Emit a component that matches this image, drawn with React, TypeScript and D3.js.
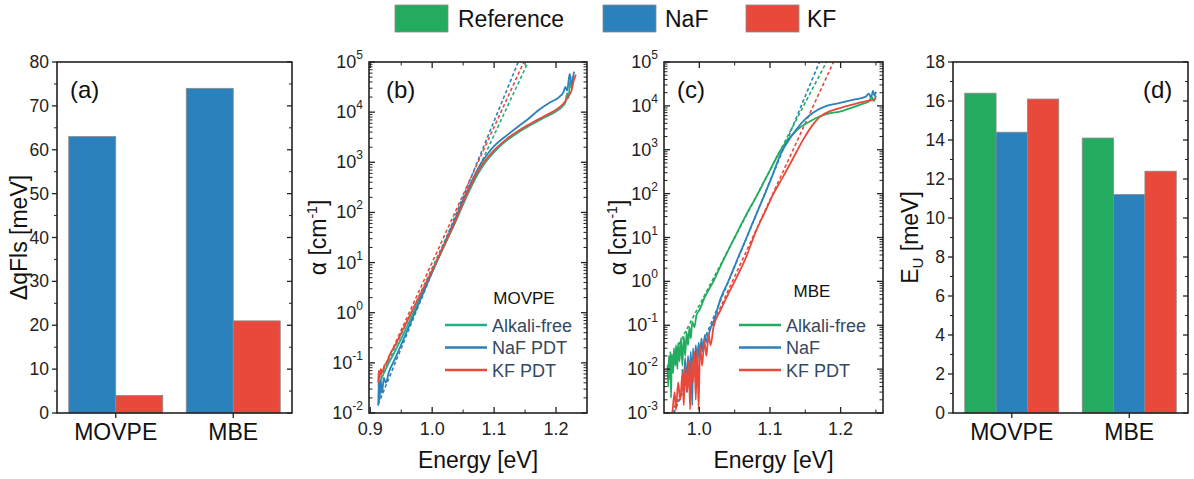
import React from 'react';
import * as d3 from 'd3';

const FONT = "'Liberation Sans', Arial, Helvetica, sans-serif";
const GREEN = '#23ab5f';
const BLUE = '#2a81bb';
const RED = '#e8493a';
const GREEN_B = '#22b086';
const LEG_TXT = '#34495e';

// ---------- data ----------
const categories = ['MOVPE', 'MBE'];
const legendLabels = ['Reference', 'NaF', 'KF'];
const qflsNaF = [63, 74];
const qflsKF = [4, 21];
const euReference = [16.4, 14.1];
const euNaF = [14.4, 11.2];
const euKF = [16.1, 12.4];

const ticksA = [0, 10, 20, 30, 40, 50, 60, 70, 80];
const ticksD = [0, 2, 4, 6, 8, 10, 12, 14, 16, 18];
const energyTicksB = [0.9, 1.0, 1.1, 1.2];
const energyTicksC = [1.0, 1.1, 1.2];
const legendB = ['Alkali-free', 'NaF PDT', 'KF PDT'];
const legendC = ['Alkali-free', 'NaF', 'KF PDT'];

// (b) MOVPE absorption [E (eV), alpha (cm^-1)]
const movpeAlkaliFree: [number, number][] = [
  [0.913, 0.035], [0.915, 0.04], [0.92, 0.055], [0.93, 0.1], [0.94, 0.17], [0.96, 0.55], [0.98, 1.9],
  [1.0, 6.5], [1.02, 22], [1.04, 75], [1.05, 145], [1.06, 270], [1.07, 480], [1.08, 780],
  [1.09, 1150], [1.1, 1600], [1.12, 2700], [1.14, 4000], [1.16, 5600], [1.18, 7700], [1.2, 10300],
  [1.21, 12800], [1.215, 15500], [1.218, 24000], [1.22, 19000], [1.223, 42000], [1.225, 30000],
  [1.227, 52000],
];
const movpeNaF: [number, number][] = [
  [0.913, 0.014], [0.9135, 0.04], [0.915, 0.018], [0.917, 0.045], [0.919, 0.025], [0.922, 0.05],
  [0.925, 0.04], [0.93, 0.065], [0.94, 0.12], [0.96, 0.45], [0.98, 1.7], [1.0, 6.5], [1.02, 24],
  [1.04, 90], [1.05, 180], [1.06, 330], [1.07, 600], [1.08, 1000], [1.09, 1500], [1.1, 2100],
  [1.12, 3400], [1.14, 5300], [1.155, 7300], [1.17, 10500], [1.19, 15500], [1.205, 20000],
  [1.212, 25000], [1.215, 32000], [1.218, 27000], [1.222, 58000], [1.225, 36000], [1.229, 64000],
];
const movpeKF: [number, number][] = [
  [0.913, 0.04], [0.9135, 0.07], [0.915, 0.05], [0.917, 0.075], [0.92, 0.065], [0.923, 0.09],
  [0.927, 0.1], [0.93, 0.13], [0.94, 0.22], [0.96, 0.7], [0.98, 2.2], [1.0, 7], [1.02, 23],
  [1.04, 80], [1.05, 160], [1.06, 300], [1.07, 540], [1.08, 870], [1.09, 1270], [1.1, 1750],
  [1.12, 2900], [1.14, 4300], [1.16, 6000], [1.18, 8200], [1.2, 11200], [1.21, 14000],
  [1.215, 16500], [1.22, 21000], [1.225, 27000], [1.228, 40000], [1.232, 56000],
];
const movpeFitAlkaliFree: [number, number][] = [[0.913, 0.039], [1.155, 100000]];
const movpeFitNaF: [number, number][] = [[0.913, 0.015], [1.139, 100000]];
const movpeFitKF: [number, number][] = [[0.913, 0.045], [1.148, 100000]];

// (c) MBE absorption
const mbeAlkaliFree: [number, number][] = [
  [0.955, 0.012], [0.956, 0.004], [0.957, 0.02], [0.958, 0.006], [0.959, 0.025], [0.96, 0.0022],
  [0.961, 0.022], [0.963, 0.008], [0.964, 0.03], [0.966, 0.012], [0.967, 0.035], [0.969, 0.01],
  [0.97, 0.04], [0.972, 0.015], [0.974, 0.05], [0.976, 0.012], [0.978, 0.055], [0.98, 0.02],
  [0.982, 0.07], [0.984, 0.035], [0.986, 0.09], [0.988, 0.05], [0.99, 0.12], [0.993, 0.09],
  [0.996, 0.17], [1.0, 0.22], [1.008, 0.45], [1.02, 1.0], [1.032, 2.6], [1.05, 10], [1.065, 30],
  [1.083, 100], [1.1, 340], [1.112, 800], [1.12, 1300], [1.138, 2800], [1.155, 4300],
  [1.171, 5800], [1.185, 6800], [1.199, 7400], [1.215, 9000], [1.23, 11000], [1.24, 12500],
  [1.244, 16000], [1.247, 13000], [1.25, 17000],
];
const mbeNaF: [number, number][] = [
  [0.976, 0.01], [0.978, 0.004], [0.98, 0.018], [0.982, 0.003], [0.984, 0.02], [0.986, 0.006],
  [0.988, 0.025], [0.99, 0.0015], [0.991, 0.03], [0.993, 0.008], [0.995, 0.035], [0.997, 0.012],
  [0.999, 0.04], [1.001, 0.02], [1.003, 0.05], [1.005, 0.025], [1.008, 0.06], [1.011, 0.04],
  [1.015, 0.08], [1.02, 0.12], [1.03, 0.4], [1.041, 1.0], [1.055, 3.5], [1.067, 10], [1.08, 32],
  [1.093, 100], [1.105, 300], [1.115, 800], [1.125, 1500], [1.138, 3000], [1.15, 5000],
  [1.161, 7000], [1.18, 10000], [1.199, 11700], [1.22, 14000], [1.235, 16000], [1.24, 19000],
  [1.243, 15500], [1.246, 22000], [1.248, 17000], [1.25, 21000],
];
const mbeKF: [number, number][] = [
  [0.962, 0.001], [0.965, 0.003], [0.967, 0.0012], [0.97, 0.005], [0.973, 0.002], [0.976, 0.008],
  [0.978, 0.0015], [0.98, 0.012], [0.983, 0.003], [0.985, 0.015], [0.987, 0.0012], [0.989, 0.018],
  [0.991, 0.005], [0.993, 0.025], [0.995, 0.002], [0.997, 0.03], [0.999, 0.0012], [1.001, 0.035],
  [1.004, 0.012], [1.007, 0.045], [1.01, 0.02], [1.013, 0.06], [1.016, 0.035], [1.02, 0.09],
  [1.03, 0.22], [1.04, 0.48], [1.05, 1.0], [1.065, 3.2], [1.081, 15], [1.095, 45], [1.105, 100],
  [1.119, 250], [1.133, 650], [1.147, 1700], [1.16, 3600], [1.171, 5700], [1.185, 7600],
  [1.199, 8900], [1.215, 10500], [1.23, 12200], [1.24, 13200], [1.246, 13800], [1.25, 15000],
];
const mbeFitAlkaliFree: [number, number][] = [[0.955, 0.0117], [1.18, 100000]];
const mbeFitNaF: [number, number][] = [[0.964, 0.001], [1.17, 100000]];
const mbeFitKF: [number, number][] = [[0.961, 0.001], [1.19, 100000]];

// ---------- layout ----------
const TOP = 62;
const BOTTOM = 413;

type Series = { values: number[]; color: string };

function BarPanel(props: {
  x0: number; x1: number; yMax: number; ticks: number[]; minorStep: number;
  series: Series[]; label: string; labelX: number; ylabel: React.ReactNode; ylabelX: number;
}) {
  const { x0, x1, yMax, ticks, minorStep, series, label, labelX, ylabel, ylabelX } = props;
  const xb = d3.scaleBand<string>().domain(categories).range([x0, x1]).paddingInner(0.2).paddingOuter(0.1);
  const xs = d3.scaleBand<number>().domain(d3.range(series.length)).range([0, xb.bandwidth()]);
  const y = d3.scaleLinear().domain([0, yMax]).range([BOTTOM, TOP]);
  const minors = d3.range(0, yMax + 1e-9, minorStep).filter((v) => !ticks.some((t) => Math.abs(t - v) < 1e-9));
  return (
    <g>
      {categories.map((c, ci) =>
        series.map((s, si) => (
          <rect key={c + si} x={xb(c)! + xs(si)!} y={y(s.values[ci])} width={xs.bandwidth()}
            height={BOTTOM - y(s.values[ci])} fill={s.color} stroke="#8a8a8a" strokeWidth={0.8} />
        ))
      )}
      <rect x={x0} y={TOP} width={x1 - x0} height={BOTTOM - TOP} fill="none" stroke="#222" strokeWidth={1.6} />
      {ticks.map((t) => (
        <g key={'t' + t}>
          <line x1={x0 - 5} x2={x0} y1={y(t)} y2={y(t)} stroke="#222" strokeWidth={1.3} />
          <line x1={x1 - 5} x2={x1} y1={y(t)} y2={y(t)} stroke="#222" strokeWidth={1.3} />
          <text x={x0 - 8} y={y(t) + 6} textAnchor="end" fontSize={17.5} fill="#222">{t}</text>
        </g>
      ))}
      {minors.map((t) => (
        <g key={'m' + t}>
          <line x1={x0 - 3} x2={x0} y1={y(t)} y2={y(t)} stroke="#222" strokeWidth={1} />
          <line x1={x1 - 3} x2={x1} y1={y(t)} y2={y(t)} stroke="#222" strokeWidth={1} />
        </g>
      ))}
      {categories.map((c) => {
        const cx = xb(c)! + xb.bandwidth() / 2;
        return (
          <g key={'c' + c}>
            <line x1={cx} x2={cx} y1={BOTTOM} y2={BOTTOM + 5} stroke="#222" strokeWidth={1.3} />
            <text x={cx} y={440} textAnchor="middle" fontSize={23} fill="#111">{c}</text>
          </g>
        );
      })}
      <text x={labelX} y={98} fontSize={24} fill="#111">{label}</text>
      <text transform={`translate(${ylabelX},${(TOP + BOTTOM) / 2}) rotate(-90)`} textAnchor="middle" fontSize={23} fill="#111">
        {ylabel}
      </text>
    </g>
  );
}

type Curve = { data: [number, number][]; color: string };

function LogPanel(props: {
  id: string; x0: number; x1: number; xDomain: [number, number]; expLo: number; expHi: number;
  xTicks: number[]; curves: Curve[]; fits: Curve[]; title: string; titleX: number; titleY: number;
  legX: number; legendItems: string[]; legendColors: string[]; label: string; labelX: number; ylabelX: number;
}) {
  const { id, x0, x1, xDomain, expLo, expHi, xTicks, curves, fits, title, titleX, titleY, legX, legendItems, legendColors, label, labelX, ylabelX } = props;
  const x = d3.scaleLinear().domain(xDomain).range([x0, x1]);
  const y = d3.scaleLog().domain([Math.pow(10, expLo), Math.pow(10, expHi)]).range([BOTTOM, TOP]);
  const fitLine = d3.line<[number, number]>().x((d) => x(d[0])).y((d) => y(d[1]));
  const line = d3.line<[number, number]>().x((d) => x(d[0])).y((d) => y(d[1])).curve(d3.curveMonotoneX);
  const exps = d3.range(expLo, expHi + 1);
  const minorY: number[] = [];
  exps.slice(0, -1).forEach((e) => { for (let m = 2; m <= 9; m++) minorY.push(m * Math.pow(10, e)); });
  const minorX = d3.range(Math.ceil(xDomain[0] / 0.05) * 0.05, xDomain[1] + 1e-9, 0.05)
    .filter((v) => !xTicks.some((t) => Math.abs(t - v) < 1e-6) && v > xDomain[0] + 1e-6 && v < xDomain[1] - 1e-6);
  const clip = 'clip-' + id;
  return (
    <g>
      <defs>
        <clipPath id={clip}><rect x={x0} y={TOP} width={x1 - x0} height={BOTTOM - TOP} /></clipPath>
      </defs>
      <g clipPath={`url(#${clip})`}>
        {fits.map((f, i) => (
          <path key={'f' + i} d={fitLine(f.data)!} fill="none" stroke={f.color} strokeWidth={1.6} strokeDasharray="3.5,2.5" />
        ))}
        {curves.map((c, i) => (
          <path key={'c' + i} d={line(c.data)!} fill="none" stroke={c.color} strokeWidth={1.8} strokeLinejoin="round" />
        ))}
      </g>
      <rect x={x0} y={TOP} width={x1 - x0} height={BOTTOM - TOP} fill="none" stroke="#222" strokeWidth={1.6} />
      {exps.map((e) => (
        <g key={'e' + e}>
          <line x1={x0} x2={x0 + 6} y1={y(Math.pow(10, e))} y2={y(Math.pow(10, e))} stroke="#222" strokeWidth={1.3} />
          <line x1={x1 - 6} x2={x1} y1={y(Math.pow(10, e))} y2={y(Math.pow(10, e))} stroke="#222" strokeWidth={1.3} />
          <text x={x0 - 6} y={y(Math.pow(10, e)) + 6} textAnchor="end" fill="#222">
            <tspan fontSize={18}>10</tspan>
            <tspan fontSize={12} dy={-9}>{e}</tspan>
          </text>
        </g>
      ))}
      {minorY.map((v, i) => (
        <g key={'my' + i}>
          <line x1={x0} x2={x0 + 3.5} y1={y(v)} y2={y(v)} stroke="#222" strokeWidth={1} />
          <line x1={x1 - 3.5} x2={x1} y1={y(v)} y2={y(v)} stroke="#222" strokeWidth={1} />
        </g>
      ))}
      {xTicks.map((t) => (
        <g key={'x' + t}>
          <line x1={x(t)} x2={x(t)} y1={BOTTOM} y2={BOTTOM - 6} stroke="#222" strokeWidth={1.3} />
          <line x1={x(t)} x2={x(t)} y1={TOP} y2={TOP + 6} stroke="#222" strokeWidth={1.3} />
          <text x={x(t)} y={435} textAnchor="middle" fontSize={18} fill="#222">{t.toFixed(1)}</text>
        </g>
      ))}
      {minorX.map((t, i) => (
        <g key={'mx' + i}>
          <line x1={x(t)} x2={x(t)} y1={BOTTOM} y2={BOTTOM - 3.5} stroke="#222" strokeWidth={1} />
          <line x1={x(t)} x2={x(t)} y1={TOP} y2={TOP + 3.5} stroke="#222" strokeWidth={1} />
        </g>
      ))}
      <text x={(x0 + x1) / 2} y={468} textAnchor="middle" fontSize={23} fill="#111">Energy [eV]</text>
      <text transform={`translate(${ylabelX},${(TOP + BOTTOM) / 2}) rotate(-90)`} textAnchor="middle" fontSize={23} fill="#111">
        <tspan>α [cm</tspan>
        <tspan fontSize={14} dy={-9}>-1</tspan>
        <tspan dy={9}>]</tspan>
      </text>
      <text x={labelX} y={98} fontSize={24} fill="#111">{label}</text>
      <text x={titleX} y={titleY} textAnchor="middle" fontSize={17} fill="#111">{title}</text>
      {legendItems.map((l, i) => (
        <g key={'l' + i}>
          <line x1={legX} x2={legX + 42} y1={325 + i * 22.5} y2={325 + i * 22.5} stroke={legendColors[i]} strokeWidth={2.6} />
          <text x={legX + 47} y={325 + i * 22.5 + 6.5} fontSize={18} fill={LEG_TXT}>{l}</text>
        </g>
      ))}
    </g>
  );
}

export default function App() {
  const legendColors = [GREEN, BLUE, RED];
  const legendPos = [
    { sx: 395, tx: 458 },
    { sx: 603, tx: 665 },
    { sx: 746, tx: 807 },
  ];
  return (
    <svg width={1194} height={479} style={{ position: 'absolute', left: 0, top: 0, background: '#fff' }}
      fontFamily={FONT}>
      <rect x={0} y={0} width={1194} height={479} fill="#fff" />
      {legendLabels.map((l, i) => (
        <g key={l}>
          <rect x={legendPos[i].sx} y={5} width={53} height={27} fill={legendColors[i]} stroke="#8a8a8a" strokeWidth={0.8} />
          <text x={legendPos[i].tx} y={27} fontSize={23} fill="#111">{l}</text>
        </g>
      ))}
      <BarPanel x0={57} x1={292} yMax={80} ticks={ticksA} minorStep={5}
        series={[{ values: qflsNaF, color: BLUE }, { values: qflsKF, color: RED }]}
        label="(a)" labelX={70} ylabel={'ΔqFls [meV]'} ylabelX={27} />
      <LogPanel id="b" x0={369} x1={587} xDomain={[0.898, 1.25]} expLo={-2} expHi={5} xTicks={energyTicksB}
        curves={[{ data: movpeAlkaliFree, color: GREEN_B }, { data: movpeNaF, color: BLUE }, { data: movpeKF, color: RED }]}
        fits={[{ data: movpeFitNaF, color: BLUE }, { data: movpeFitKF, color: RED }, { data: movpeFitAlkaliFree, color: GREEN_B }]}
        title="MOVPE" titleX={524} titleY={304} legX={445} legendItems={legendB}
        legendColors={[GREEN_B, BLUE, RED]} label="(b)" labelX={386} ylabelX={326} />
      <LogPanel id="c" x0={664} x1={883} xDomain={[0.95, 1.26]} expLo={-3} expHi={5} xTicks={energyTicksC}
        curves={[{ data: mbeAlkaliFree, color: GREEN }, { data: mbeNaF, color: BLUE }, { data: mbeKF, color: RED }]}
        fits={[{ data: mbeFitNaF, color: BLUE }, { data: mbeFitAlkaliFree, color: GREEN }, { data: mbeFitKF, color: RED }]}
        title="MBE" titleX={812} titleY={297} legX={739} legendItems={legendC}
        legendColors={[GREEN, BLUE, RED]} label="(c)" labelX={677} ylabelX={626} />
      <BarPanel x0={953} x1={1188} yMax={18} ticks={ticksD} minorStep={1}
        series={[{ values: euReference, color: GREEN }, { values: euNaF, color: BLUE }, { values: euKF, color: RED }]}
        label="(d)" labelX={1143}
        ylabel={<><tspan>E</tspan><tspan fontSize={15} dy={5}>U</tspan><tspan dy={-5}> [meV]</tspan></>}
        ylabelX={918} />
    </svg>
  );
}
